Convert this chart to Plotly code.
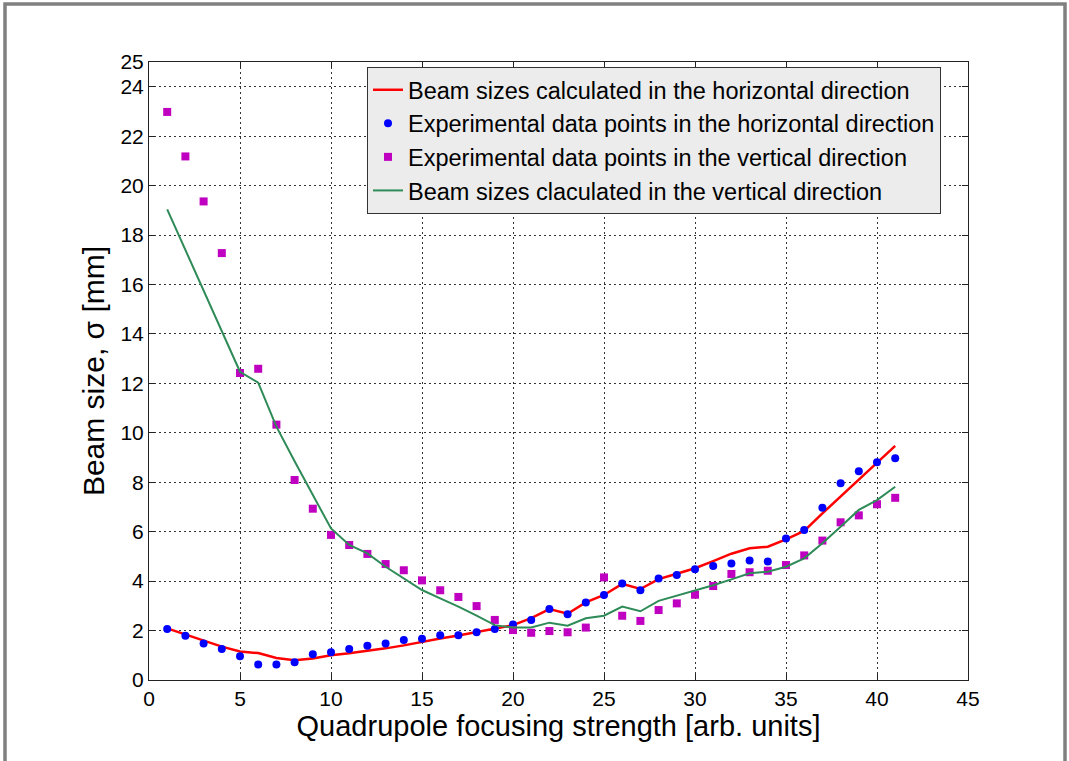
import plotly.graph_objects as go

# quadrupole setting index
k = list(range(1, 42))

# horizontal: calculated and measured beam size [mm]
h_calc = [2.09, 1.85, 1.58, 1.35, 1.15, 1.09, 0.89, 0.80, 0.87, 1.00,
          1.08, 1.17, 1.28, 1.40, 1.55, 1.68, 1.80, 1.93, 2.06, 2.22,
          2.50, 2.87, 2.68, 3.14, 3.44, 3.89, 3.68, 4.08, 4.30, 4.52,
          4.81, 5.11, 5.33, 5.39, 5.69, 6.03, 6.74, 7.42, 8.09, 8.75, 9.47]
h_meas = [2.06, 1.79, 1.48, 1.25, 0.96, 0.63, 0.63, 0.72, 1.04, 1.12,
          1.25, 1.39, 1.48, 1.62, 1.67, 1.81, 1.81, 1.93, 2.06, 2.25,
          2.43, 2.87, 2.66, 3.14, 3.44, 3.90, 3.63, 4.11, 4.25, 4.48,
          4.61, 4.71, 4.83, 4.79, 5.72, 6.07, 6.97, 7.96, 8.44, 8.81, 8.97]

# vertical: measured and calculated beam size [mm]
v_meas = [22.98, 21.18, 19.36, 17.27, 12.42, 12.59, 10.33, 8.09, 6.93, 5.87,
          5.46, 5.10, 4.69, 4.44, 4.03, 3.63, 3.36, 2.99, 2.43, 2.02,
          1.91, 1.98, 1.93, 2.12, 4.15, 2.60, 2.39, 2.83, 3.10, 3.45,
          3.80, 4.29, 4.36, 4.42, 4.65, 5.04, 5.64, 6.38, 6.66, 7.11, 7.37]
v_calc = [19.04, 17.40, 15.76, 14.11, 12.47, 12.03, 10.25, 8.85, 7.50, 6.13,
          5.46, 5.12, 4.58, 4.10, 3.64, 3.30, 2.97, 2.60, 2.22, 2.12,
          2.12, 2.32, 2.20, 2.50, 2.60, 2.97, 2.78, 3.20, 3.40, 3.60,
          3.83, 4.07, 4.32, 4.38, 4.58, 4.92, 5.53, 6.20, 6.88, 7.28, 7.82]

font = "Liberation Sans, Arial, sans-serif"

fig = go.Figure()
fig.add_trace(go.Scatter(x=k, y=h_calc, mode="lines", line=dict(color="#ff0000", width=2.5),
                         name="Beam sizes calculated in the horizontal direction"))
fig.add_trace(go.Scatter(x=k, y=h_meas, mode="markers",
                         marker=dict(color="#0000ff", size=8, symbol="circle"),
                         name="Experimental data points in the horizontal direction"))
fig.add_trace(go.Scatter(x=k, y=v_meas, mode="markers",
                         marker=dict(color="#c000c0", size=8, symbol="square"),
                         name="Experimental data points in the vertical direction"))
fig.add_trace(go.Scatter(x=k, y=v_calc, mode="lines", line=dict(color="#2e8b57", width=2),
                         name="Beam sizes claculated in the vertical direction"))

axis_common = dict(
    showline=True, linecolor="#222222", linewidth=1, mirror="ticks",
    ticks="inside", ticklen=6, tickcolor="#222222",
    showgrid=True, gridcolor="#333333", griddash="1.5px,3.5px", gridwidth=1,
    zeroline=False, tickfont=dict(family=font, size=21, color="black"),
)

fig.update_xaxes(range=[0, 45], tickvals=list(range(0, 46, 5)),
                 title=dict(text="Quadrupole focusing strength [arb. units]",
                            font=dict(family=font, size=29, color="black"), standoff=0),
                 **axis_common)
fig.update_yaxes(range=[0, 25], tickvals=list(range(0, 25, 2)) + [25],
                 title=dict(text="Beam size, σ [mm]",
                            font=dict(family=font, size=30, color="black"), standoff=6),
                 **axis_common)

# grey window frame around the figure
W, H = 1069, 761
L, R, T, B = 149, 101, 62, 81
pw, ph = W - L - R, H - T - B
def px_x(p):
    return (p - L) / pw
def px_y(p):
    return (H - B - p) / ph

fig.add_shape(type="rect", xref="paper", yref="paper",
              x0=px_x(5), x1=px_x(1065), y0=px_y(4), y1=px_y(775),
              line=dict(color="#808080", width=3.5), fillcolor="rgba(0,0,0,0)", layer="below")

fig.update_layout(
    width=W, height=H,
    margin=dict(l=L, r=R, t=T, b=B),
    paper_bgcolor="white", plot_bgcolor="white",
    font=dict(family=font, color="black"),
    legend=dict(x=px_x(367), y=px_y(67), xanchor="left", yanchor="top",
                bgcolor="#ececec", bordercolor="#333333", borderwidth=1,
                font=dict(family=font, size=23.5, color="black"),
                tracegroupgap=0, itemwidth=30),
    showlegend=True,
)

# the page body has a default 8px margin; drop it so the figure sits at the corner
fig.write_html("out.html", config={"displayModeBar": False},
               post_script="document.body.style.margin='0';")
